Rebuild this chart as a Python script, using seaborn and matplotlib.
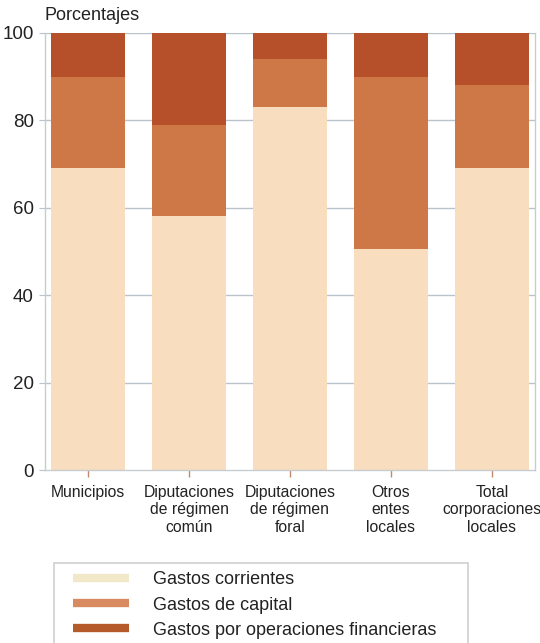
import matplotlib
matplotlib.use("Agg")
import matplotlib.pyplot as plt
import matplotlib.patches as mpatches
from matplotlib.lines import Line2D
import numpy as np
import pandas as pd
import seaborn as sns

# Distribución del gasto de las corporaciones locales (%)
categorias = [
    "Municipios",
    "Diputaciones\nde régimen\ncomún",
    "Diputaciones\nde régimen\nforal",
    "Otros\nentes\nlocales",
    "Total\ncorporaciones\nlocales",
]
gastos_corrientes = [69.0, 58.0, 83.0, 50.5, 69.0]
gastos_capital = [21.0, 21.0, 11.0, 39.5, 19.0]
gastos_financieros = [10.0, 21.0, 6.0, 10.0, 12.0]

series = ["Gastos corrientes", "Gastos de capital", "Gastos por operaciones financieras"]
colores = ["#F8DDBE", "#CE7747", "#B5502A"]
colores_leyenda = ["#F1E8C9", "#D98A60", "#B55A2A"]
yticks = [0, 20, 40, 60, 80, 100]

sns.set_theme(style="white")
plt.rcParams["font.family"] = ["Liberation Sans", "DejaVu Sans"]

df = pd.DataFrame({
    "categoria": categorias,
    "corr": gastos_corrientes,
    "cap": gastos_capital,
    "fin": gastos_financieros,
})
# cumulative heights for stacking (drawn back to front)
df["h1"] = df["corr"]
df["h2"] = df["corr"] + df["cap"]
df["h3"] = df["corr"] + df["cap"] + df["fin"]

fig = plt.figure(figsize=(5.4, 6.43), dpi=100)
ax = fig.add_axes([0.083, 0.269, 0.908, 0.68])

ax.set_axisbelow(True)
for y in yticks[1:]:
    ax.axhline(y, color="#B9C3CB", linewidth=1.0, zorder=0)

for col, color in zip(["h3", "h2", "h1"], colores[::-1]):
    sns.barplot(data=df, x="categoria", y=col, color=color, width=0.73,
                saturation=1, linewidth=0, ax=ax, zorder=2)

ax.set_xlim(-0.43, 4.43)
ax.set_ylim(0, 100)
ax.set_yticks(yticks)
ax.set_yticklabels([str(v) for v in yticks], fontsize=13.5, color="#222222")
ax.set_xticks(range(len(categorias)))
ax.set_xticklabels(categorias, fontsize=11.3, color="#222222", linespacing=1.18)
ax.set_xlabel("")
ax.set_ylabel("")
ax.tick_params(axis="x", length=5, width=1.0, color="#C08A70", pad=6, bottom=True)
ax.tick_params(axis="y", length=4, width=0.8, color="#B9C3CB", pad=4, left=True)

for side in ["left", "bottom", "right"]:
    ax.spines[side].set_color("#C8CCD0")
    ax.spines[side].set_linewidth(1.0)
ax.spines["top"].set_visible(False)

fig.text(0.083, 0.962, "Porcentajes", fontsize=13, color="#222222",
         ha="left", va="bottom")

# legend box running off the lower edge
fig.patches.append(mpatches.Rectangle((0.1, -0.05), 0.767, 0.174,
                                      transform=fig.transFigure,
                                      facecolor="white", edgecolor="#CFCFCF",
                                      linewidth=1.2, zorder=1))
handles = [Line2D([], [], color=c, linewidth=6, solid_capstyle="butt")
           for c in colores_leyenda]
fig.legend(handles, series, loc="upper left", bbox_to_anchor=(0.112, 0.131),
           frameon=False, fontsize=13, handlelength=3.1, handletextpad=1.35,
           labelspacing=0.45, borderpad=0.2, labelcolor="#222222")

fig.savefig("out.png", dpi=100)
